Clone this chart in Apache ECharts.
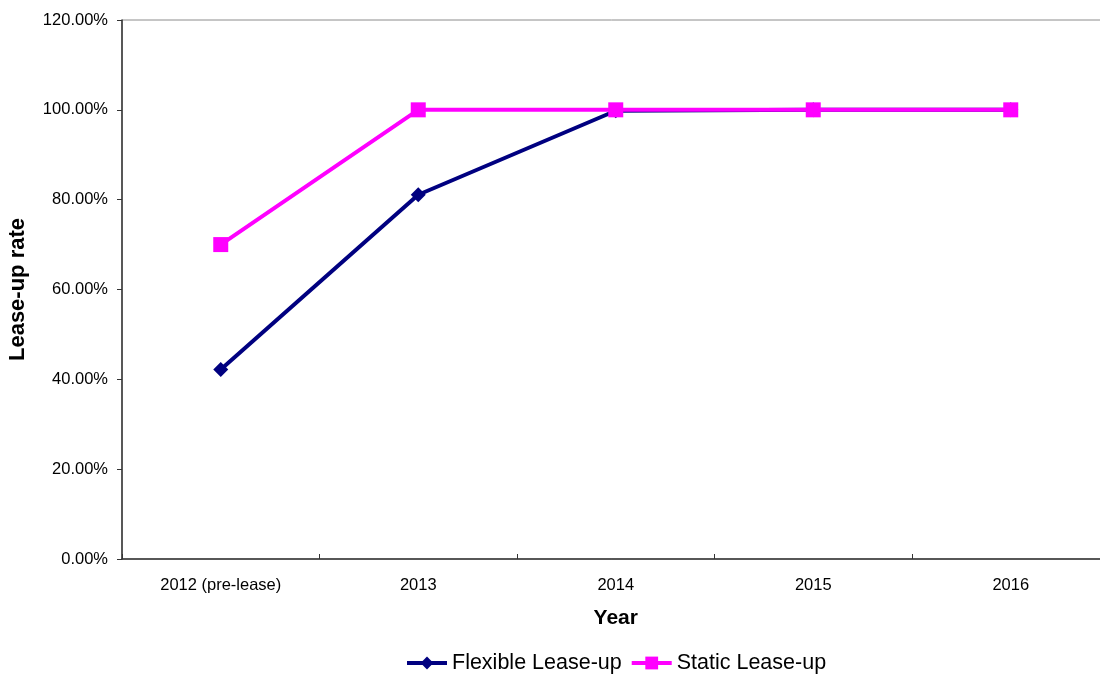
<!DOCTYPE html>
<html>
<head>
<meta charset="utf-8">
<script src="https://cdn.jsdelivr.net/npm/echarts@6/dist/echarts.min.js"></script>
<style>
  html, body { margin: 0; padding: 0; background: #fff; }
  #chart { width: 1100px; height: 674px; }
</style>
</head>
<body>
<div id="chart"></div>
<script>
// Lease-up rate by year, two leasing strategies
const years = ['2012 (pre-lease)', '2013', '2014', '2015', '2016'];
const flexibleLeaseUp = [42.2, 81.1, 99.8, 100, 100];
const staticLeaseUp = [70.0, 100, 100, 100, 100];
const yTicks = [0, 20, 40, 60, 80, 100, 120];

const FONT = '"Liberation Sans", Arial, sans-serif';
const chart = echarts.init(document.getElementById('chart'), null, { renderer: 'canvas' });

chart.setOption({
  animation: false,
  backgroundColor: '#ffffff',
  textStyle: { fontFamily: FONT },
  grid: {
    left: 122, top: 20, width: 987.5, height: 539,
    outerBoundsMode: 'none',
    containLabel: false,
    show: true, borderColor: '#8c8c8c', borderWidth: 1
  },
  legend: {
    top: 647, left: 400,
    itemWidth: 40, itemHeight: 16, itemGap: 8,
    lineStyle: { width: 4 },
    textStyle: { fontSize: 21.5, color: '#000', fontFamily: FONT },
    data: ['Flexible Lease-up', 'Static Lease-up']
  },
  xAxis: {
    type: 'category',
    data: years,
    boundaryGap: true,
    name: 'Year',
    nameLocation: 'middle',
    nameGap: 49,
    nameTextStyle: { fontSize: 21, fontWeight: 'bold', color: '#000', fontFamily: FONT },
    axisLine: { lineStyle: { color: '#333', width: 1.5 } },
    axisTick: { show: true, inside: true, length: 5, lineStyle: { color: '#333' } },
    axisLabel: { fontSize: 16.5, color: '#000', margin: 18, fontFamily: FONT },
    splitLine: { show: false }
  },
  yAxis: {
    type: 'value',
    min: yTicks[0], max: yTicks[yTicks.length - 1], interval: 20,
    name: 'Lease-up rate',
    nameLocation: 'middle',
    nameGap: 93,
    nameRotate: 90,
    nameTextStyle: { fontSize: 22, fontWeight: 'bold', color: '#000', fontFamily: FONT, padding: [0, 0, 0, 0] },
    axisLine: { show: true, lineStyle: { color: '#333', width: 1.5 } },
    axisTick: { show: true, length: 5, lineStyle: { color: '#333' } },
    axisLabel: {
      fontSize: 16.5, color: '#000', margin: 14, fontFamily: FONT,
      formatter: v => v.toFixed(2) + '%'
    },
    splitLine: { show: false }
  },
  series: [
    {
      name: 'Flexible Lease-up',
      type: 'line',
      data: flexibleLeaseUp,
      color: '#000080',
      lineStyle: { width: 4, color: '#000080' },
      symbol: 'diamond',
      symbolSize: 15,
      itemStyle: { color: '#000080' },
      z: 2
    },
    {
      name: 'Static Lease-up',
      type: 'line',
      data: staticLeaseUp,
      color: '#ff00ff',
      lineStyle: { width: 4, color: '#ff00ff' },
      symbol: 'rect',
      symbolSize: 15,
      itemStyle: { color: '#ff00ff' },
      z: 3
    }
  ]
});
</script>
</body>
</html>
